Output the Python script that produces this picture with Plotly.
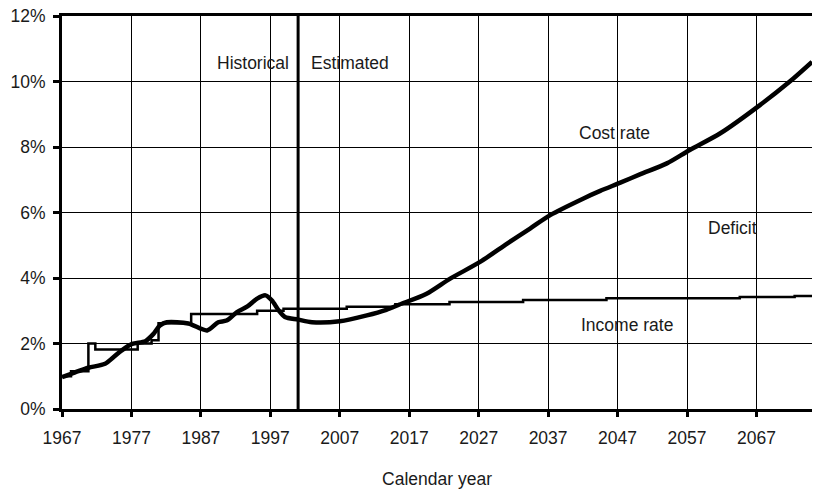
import plotly.graph_objects as go

# ---- data ----
cost_years = [1967.0, 1968.9, 1970.8, 1973.2, 1974.4, 1975.6, 1977.1, 1979.0, 1980.2, 1981.1,
              1982.1, 1985.2, 1987.9, 1989.5, 1990.7, 1992.2, 1993.7, 1995.1, 1996.3, 1997.2,
              1998.2, 1999.1, 2001.0, 2003.0, 2007.0, 2010.9, 2013.7, 2015.6, 2019.5, 2022.9,
              2027.2, 2031.1, 2034.4, 2037.3, 2042.1, 2044.5, 2047.4, 2050.3, 2054.1, 2057.4,
              2061.8, 2067.5, 2071.8, 2075.0]
cost_rate = [0.97, 1.12, 1.26, 1.38, 1.58, 1.79, 1.99, 2.07, 2.30, 2.55,
             2.65, 2.61, 2.40, 2.65, 2.70, 2.96, 3.13, 3.37, 3.47, 3.32,
             3.01, 2.81, 2.73, 2.65, 2.68, 2.86, 3.03, 3.19, 3.52, 3.98,
             4.49, 5.05, 5.51, 5.92, 6.43, 6.66, 6.91, 7.17, 7.50, 7.91,
             8.42, 9.28, 10.00, 10.60]

income_years = [1967.0, 1968.3, 1970.8, 1971.8, 1977.9, 1979.9, 1980.9, 1985.6, 1995.1,
                1998.9, 2008.0, 2015.0, 2022.8, 2033.4, 2045.4, 2064.6, 2072.5, 2075.0]
income_rate = [1.00, 1.15, 2.00, 1.82, 2.00, 2.10, 2.62, 2.90, 3.00,
               3.06, 3.12, 3.20, 3.27, 3.33, 3.38, 3.42, 3.45, 3.45]

split_year = 2001
x_ticks = [1967, 1977, 1987, 1997, 2007, 2017, 2027, 2037, 2047, 2057, 2067]
y_ticks = [0, 2, 4, 6, 8, 10, 12]
y_tick_labels = ["0%", "2%", "4%", "6%", "8%", "10%", "12%"]

labels = [
    ("Historical", 1994.5, 10.56),
    ("Estimated", 2008.4, 10.56),
    ("Cost rate", 2046.5, 8.43),
    ("Deficit", 2063.6, 5.53),
    ("Income rate", 2048.4, 2.55),
]

FONT = "Liberation Sans, Arial, sans-serif"

fig = go.Figure()
fig.add_trace(go.Scatter(x=income_years, y=income_rate, mode="lines",
                         line=dict(color="black", width=2.5, shape="hv"),
                         showlegend=False, hoverinfo="skip"))
fig.add_trace(go.Scatter(x=cost_years, y=cost_rate, mode="lines",
                         line=dict(color="black", width=4.5, shape="spline", smoothing=0.8),
                         showlegend=False, hoverinfo="skip"))

fig.add_shape(type="line", x0=split_year, x1=split_year, y0=0, y1=12,
              xref="x", yref="y", line=dict(color="black", width=3))

for text, x, y in labels:
    fig.add_annotation(x=x, y=y, text=text, showarrow=False,
                       font=dict(family=FONT, size=17.5, color="#1a1a1a"),
                       xanchor="center", yanchor="middle")

fig.update_layout(
    width=814, height=489,
    margin=dict(l=62, r=2, t=16, b=80, autoexpand=False),
    paper_bgcolor="white", plot_bgcolor="white",
    font=dict(family=FONT, size=17.5, color="#1a1a1a"),
    showlegend=False,
)
fig.update_xaxes(range=[1967, 2075], tickvals=x_ticks, ticktext=[str(v) for v in x_ticks],
                 showgrid=True, gridcolor="black", gridwidth=1,
                 showline=True, linecolor="black", linewidth=3, mirror=True,
                 ticks="outside", ticklen=5, tickwidth=2.5, tickcolor="black",
                 ticklabelstandoff=6, automargin=False,
                 zeroline=False,
                 title=dict(text="Calendar year", font=dict(size=17.5), standoff=26))
fig.update_yaxes(range=[0, 12], tickvals=y_ticks, ticktext=y_tick_labels,
                 showgrid=True, gridcolor="black", gridwidth=1,
                 showline=True, linecolor="black", linewidth=3,
                 ticks="outside", ticklen=6, tickwidth=2.5, tickcolor="black",
                 ticklabelstandoff=4, automargin=False,
                 zeroline=False)

fig.write_html("out.html", config={"displayModeBar": False},
               post_script="document.body.style.margin='0';document.body.style.overflow='hidden';")
